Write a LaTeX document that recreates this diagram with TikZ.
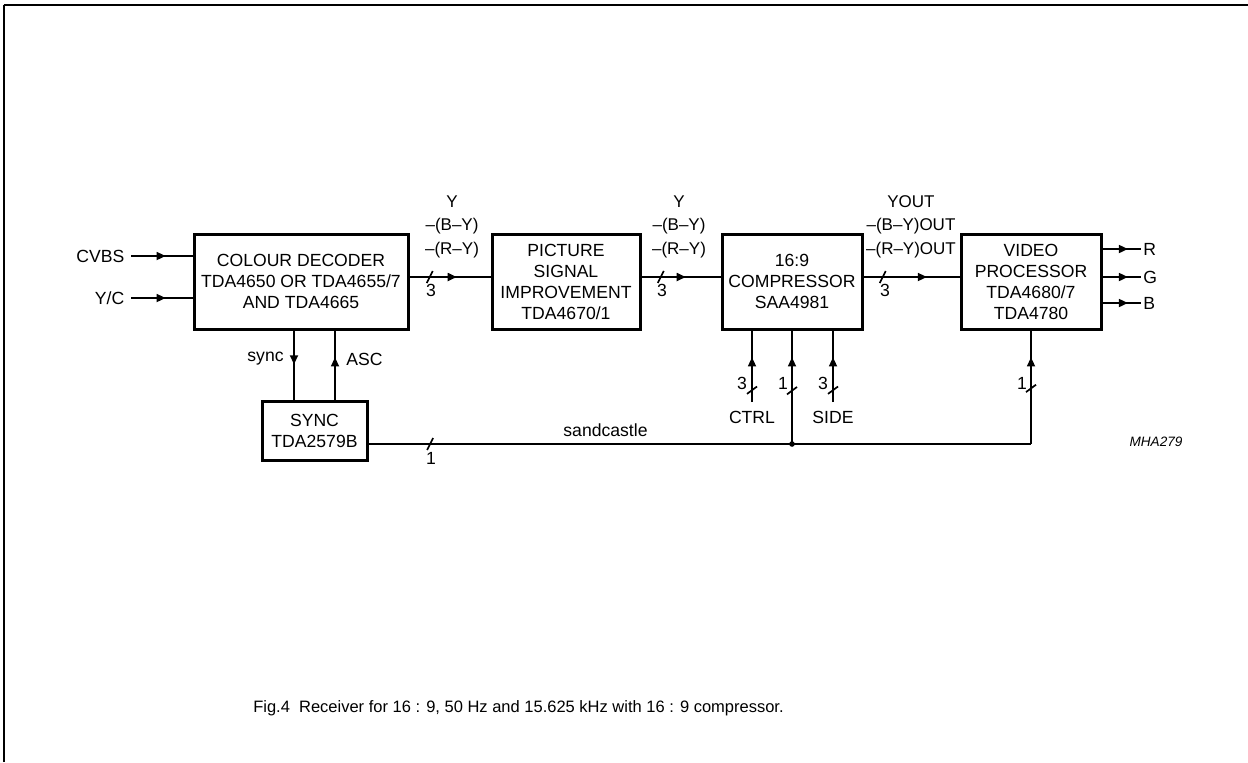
\documentclass[tikz,border=0pt]{standalone}
\usepackage{fontspec}
\setmainfont{Liberation Sans}
\usetikzlibrary{arrows.meta, decorations.markings, positioning}

\tikzset{
  blk/.style={draw, line width=1.5pt, align=center, inner sep=0pt},
  sig/.style={line width=0.85pt},
  lbl/.style={align=center, inner sep=0pt, font=\fontsize{8.5}{11.75}\selectfont},
  inlbl/.style={inner sep=1pt, outer sep=3.3pt},
  arrat/.style={postaction={decorate, decoration={markings,
      mark=at position #1 with {\arrow{Triangle[length=4.5pt, width=4pt]}}}}},
  hslash/.style={postaction={decorate, decoration={markings,
      mark=at position #1 with {\draw[sig] (-1.5pt,-3pt) -- (1.5pt,3pt);}}}},
  vslash/.style={postaction={decorate, decoration={markings,
      mark=at position #1 with {\draw[sig] (-1.85pt,2.5pt) -- (1.85pt,-2.5pt);}}}}
}

\begin{document}
\begin{tikzpicture}[x=0.5pt, y=-0.5pt, font=\fontsize{8.8}{10.5}\selectfont]
        \useasboundingbox (0,0) rectangle (1248,762);
        \draw[line width=0.8pt] (4,762) -- (4,5);
        \draw[line width=1.2pt] (3.6,5) -- (1248,5);

        % blocks
        \node[blk, minimum width=107pt, minimum height=47.5pt] (cd) at (301,281.5) {COLOUR DECODER\\TDA4650 OR TDA4655/7\\AND TDA4665};
        \node[blk, minimum width=74pt, minimum height=47.5pt] (psi) at (566,281.5) {PICTURE\\SIGNAL\\IMPROVEMENT\\TDA4670/1};
        \node[blk, minimum width=70pt, minimum height=47.5pt] (cp) at (792,281.5) {16:9\\COMPRESSOR\\SAA4981};
        \node[blk, minimum width=70pt, minimum height=47.5pt] (vp) at (1031,281.5) {VIDEO\\PROCESSOR\\TDA4680/7\\TDA4780};
        \node[blk, minimum width=52.5pt, minimum height=29.5pt] (sy) at (314.5,430.5) {SYNC\\TDA2579B};

        % inputs and outputs
        \node[anchor=east] (cvbs) at (131.4,256) {CVBS};
        \node[anchor=east] (yc) at (131.4,298) {Y/C};
        \draw[sig, arrat=0.56] (cvbs.east) -- (cd.west |- cvbs.east);
        \draw[sig, arrat=0.56] (yc.east) -- (cd.west |- yc.east);

        \node[anchor=west, inner sep=1pt] (r) at (1141,249) {R};
        \node[anchor=west, inner sep=1pt] (g) at (1141,277) {G};
        \node[anchor=west, inner sep=1pt] (b) at (1141,303) {B};
        \draw[sig, arrat=0.66] (vp.east |- r.west) -- (r.west);
        \draw[sig, arrat=0.66] (vp.east |- g.west) -- (g.west);
        \draw[sig, arrat=0.66] (vp.east |- b.west) -- (b.west);

        % colour difference bus
        \coordinate (bus) at (0,277);
        \draw[sig, hslash=0.25, arrat=0.583] (cd.east |- bus) -- (psi.west |- bus);
        \draw[sig, hslash=0.244, arrat=0.56] (psi.east |- bus) -- (cp.west |- bus);
        \draw[sig, hslash=0.2, arrat=0.66] (cp.east |- bus) -- (vp.west |- bus);
        \node[lbl] (bus1) at (452,226.5) {Y\\–(B–Y)\\–(R–Y)};
        \node[lbl] (bus2) at (679,226.5) {Y\\–(B–Y)\\–(R–Y)};
        \node[lbl] (bus3) at (911,226.5) {YOUT\\–(B–Y)OUT\\–(R–Y)OUT};
        \node[inner sep=0pt] (w1) at (431,290) {3};
        \node[inner sep=0pt] (w2) at (662,290) {3};
        \node[inner sep=0pt] (w3) at (885,290) {3};

        % sync
        \coordinate (sx) at (294,0);
        \coordinate (ax) at (335,0);
        \draw[sig, arrat=0.49] (cd.south -| sx) -- (sy.north -| sx);
        \draw[sig, arrat=0.61] (sy.north -| ax) -- (cd.south -| ax);
        \node[anchor=east, inner sep=0pt] (synclbl) at (284,359) {sync};
        \node[anchor=west, inner sep=0pt] (asclbl) at (346,359) {ASC};

        % sandcastle
        \coordinate (vin) at (1031,444);
        \coordinate (jn) at (792,444);
        \draw[sig, hslash=0.093] (sy.east |- vin) -- (vin);
        \draw[sig, arrat=0.763, vslash=0.49] (vin) -- (vp.south -| vin);
        \draw[sig, arrat=0.763, vslash=0.47] (jn) -- (cp.south -| jn);
        \fill (jn) circle (1.4pt);
        \node[inner sep=0pt] (sclbl) at (605.5,430) {sandcastle};
        \node[inner sep=0pt] (w4) at (431,458) {1};

        % compressor controls
        \node[inlbl] (ctrl) at (752,417) {CTRL};
        \node[inlbl] (side) at (833,417) {SIDE};
        \draw[sig, arrat=0.625, vslash=0.167] (ctrl.north) -- (cp.south -| ctrl.north);
        \draw[sig, arrat=0.625, vslash=0.167] (side.north) -- (cp.south -| side.north);
        \node[inner sep=0pt] (w5) at (742,383.5) {3};
        \node[inner sep=0pt] (w6) at (783,383.5) {1};
        \node[inner sep=0pt] (w7) at (823,383.5) {3};
        \node[inner sep=0pt] (w8) at (1022,383.5) {1};

        \node[inner sep=0pt, font=\fontsize{6.8}{8}\selectfont\itshape] (code) at (1156,442) {MHA279};
        \node[inner sep=0pt, font=\fontsize{8.25}{10}\selectfont] (caption) at (518.5,708) {Fig.4\ \ Receiver for 16 : 9, 50 Hz and 15.625 kHz with 16 : 9 compressor.};
\end{tikzpicture}
\end{document}
